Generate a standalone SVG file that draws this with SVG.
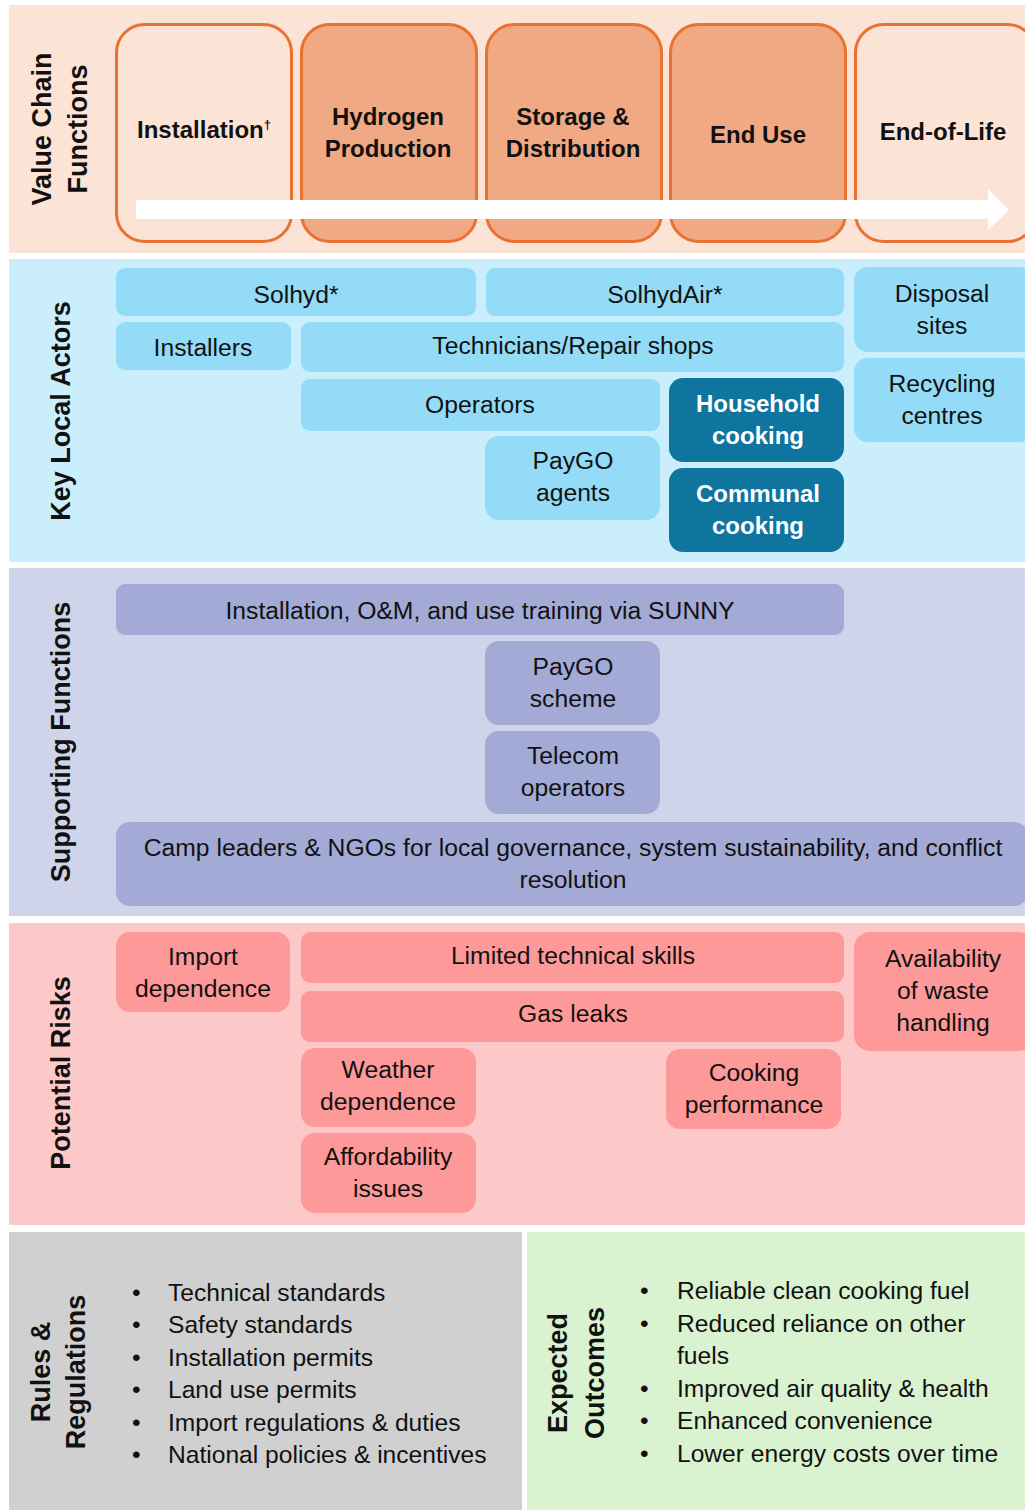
<svg xmlns="http://www.w3.org/2000/svg" width="1025" height="1510" viewBox="0 0 1025 1510">
<style>
text{font-family:"Liberation Sans",Arial,sans-serif;fill:#111;}
.t{font-size:24.7px;text-anchor:middle;}
.hb{font-size:24px;font-weight:bold;text-anchor:middle;}
.vl{font-size:27px;font-weight:bold;text-anchor:middle;}
.wb{font-size:24px;font-weight:bold;text-anchor:middle;fill:#fff;}
.li{font-size:24.6px;}
.vc{stroke:#e97132;stroke-width:3;}
.vcl{fill:#fbe3d6;}
.vcd{fill:#f1a983;}
.ka{fill:#94dbf7;}
.kd{fill:#0f759f;}
.sf{fill:#a3aad6;}
.pr{fill:#fe9999;}
</style>
<rect width="1025" height="1510" fill="#fff"/>
<g id="bands">
<rect x="9" y="5" width="1016" height="248" fill="#fbe3d6"/>
<rect x="9" y="259" width="1016" height="303" fill="#caeefb"/>
<rect x="9" y="568" width="1016" height="348" fill="#d0d4ea"/>
<rect x="9" y="923" width="1016" height="302" fill="#fdc8c8"/>
<rect x="9" y="1232" width="513" height="278" fill="#d0d0d0"/>
<rect x="527" y="1232" width="498" height="278" fill="#d9f2d0"/>
</g>
<g id="section-labels">
<text class="vl" transform="translate(51,129) rotate(-90)">Value Chain</text>
<text class="vl" transform="translate(87,129) rotate(-90)">Functions</text>
<text class="vl" transform="translate(70,411) rotate(-90)">Key Local Actors</text>
<text class="vl" transform="translate(70,742) rotate(-90)">Supporting Functions</text>
<text class="vl" transform="translate(70,1073) rotate(-90)">Potential Risks</text>
<text class="vl" transform="translate(50,1372) rotate(-90)">Rules &amp;</text>
<text class="vl" transform="translate(85,1372) rotate(-90)">Regulations</text>
<text class="vl" transform="translate(567,1373) rotate(-90)">Expected</text>
<text class="vl" transform="translate(604,1373) rotate(-90)">Outcomes</text>
</g>
<g id="vc-installation"><rect class="vc vcl" x="116.5" y="24.5" width="175" height="217" rx="28"/><text class="hb" x="204" y="138">Installation<tspan font-size="13" dy="-9">†</tspan></text></g>
<g id="vc-hydrogen"><rect class="vc vcd" x="301.5" y="24.5" width="175" height="217" rx="28"/><text class="hb" x="388" y="125">Hydrogen</text><text class="hb" x="388" y="157">Production</text></g>
<g id="vc-storage"><rect class="vc vcd" x="486.5" y="24.5" width="175" height="217" rx="28"/><text class="hb" x="573" y="125">Storage &amp;</text><text class="hb" x="573" y="157">Distribution</text></g>
<g id="vc-enduse"><rect class="vc vcd" x="670.5" y="24.5" width="175" height="217" rx="28"/><text class="hb" x="758" y="143">End Use</text></g>
<g id="vc-eol"><rect class="vc vcl" x="855.5" y="24.5" width="180" height="217" rx="28"/><text class="hb" x="943" y="140">End-of-Life</text></g>
<g id="connectors">
<polygon points="136,200 988,200 988,189 1009,210 988,230 988,219 136,219" fill="#fff"/>
</g>
<g id="a-solhyd"><rect class="ka" x="116" y="268" width="360" height="48" rx="9"/><text class="t" x="296" y="303">Solhyd*</text></g>
<g id="a-solhydair"><rect class="ka" x="486" y="268" width="358" height="48" rx="9"/><text class="t" x="665" y="303">SolhydAir*</text></g>
<g id="a-disposal"><rect class="ka" x="854" y="267" width="180" height="85" rx="14"/><text class="t" x="942" y="302">Disposal</text><text class="t" x="942" y="334">sites</text></g>
<g id="a-installers"><rect class="ka" x="116" y="322" width="175" height="48" rx="9"/><text class="t" x="203" y="356">Installers</text></g>
<g id="a-technicians"><rect class="ka" x="301" y="322" width="543" height="50" rx="9"/><text class="t" x="573" y="354">Technicians/Repair shops</text></g>
<g id="a-recycling"><rect class="ka" x="854" y="358" width="180" height="84" rx="14"/><text class="t" x="942" y="392">Recycling</text><text class="t" x="942" y="424">centres</text></g>
<g id="a-operators"><rect class="ka" x="301" y="379" width="359" height="52" rx="9"/><text class="t" x="480" y="413">Operators</text></g>
<g id="a-household"><rect class="kd" x="669" y="378" width="175" height="84" rx="14"/><text class="wb" x="758" y="412">Household</text><text class="wb" x="758" y="444">cooking</text></g>
<g id="a-paygo"><rect class="ka" x="485" y="436" width="175" height="84" rx="14"/><text class="t" x="573" y="469">PayGO</text><text class="t" x="573" y="501">agents</text></g>
<g id="a-communal"><rect class="kd" x="669" y="468" width="175" height="84" rx="14"/><text class="wb" x="758" y="502">Communal</text><text class="wb" x="758" y="534">cooking</text></g>
<g id="s-training"><rect class="sf" x="116" y="584" width="728" height="51" rx="9"/><text class="t" x="480" y="619">Installation, O&amp;M, and use training via SUNNY</text></g>
<g id="s-paygo"><rect class="sf" x="485" y="641" width="175" height="84" rx="14"/><text class="t" x="573" y="675">PayGO</text><text class="t" x="573" y="707">scheme</text></g>
<g id="s-telecom"><rect class="sf" x="485" y="731" width="175" height="83" rx="14"/><text class="t" x="573" y="764">Telecom</text><text class="t" x="573" y="796">operators</text></g>
<g id="s-camp"><rect class="sf" x="116" y="822" width="912" height="84" rx="14"/><text class="t" x="573" y="856">Camp leaders &amp; NGOs for local governance, system sustainability, and conflict</text><text class="t" x="573" y="888">resolution</text></g>
<g id="r-import"><rect class="pr" x="116" y="932" width="174" height="80" rx="14"/><text class="t" x="203" y="965">Import</text><text class="t" x="203" y="997">dependence</text></g>
<g id="r-skills"><rect class="pr" x="301" y="932" width="543" height="51" rx="9"/><text class="t" x="573" y="964">Limited technical skills</text></g>
<g id="r-waste"><rect class="pr" x="854" y="932" width="180" height="119" rx="16"/><text class="t" x="943" y="967">Availability</text><text class="t" x="943" y="999">of waste</text><text class="t" x="943" y="1031">handling</text></g>
<g id="r-gas"><rect class="pr" x="301" y="991" width="543" height="51" rx="9"/><text class="t" x="573" y="1022">Gas leaks</text></g>
<g id="r-weather"><rect class="pr" x="301" y="1048" width="175" height="79" rx="14"/><text class="t" x="388" y="1078">Weather</text><text class="t" x="388" y="1110">dependence</text></g>
<g id="r-cooking"><rect class="pr" x="666" y="1049" width="175" height="80" rx="14"/><text class="t" x="754" y="1081">Cooking</text><text class="t" x="754" y="1113">performance</text></g>
<g id="r-afford"><rect class="pr" x="301" y="1133" width="175" height="80" rx="14"/><text class="t" x="388" y="1165">Affordability</text><text class="t" x="388" y="1197">issues</text></g>
<g id="rules-list">
<text class="li" x="132" y="1301">•</text><text class="li" x="168" y="1301">Technical standards</text>
<text class="li" x="132" y="1333">•</text><text class="li" x="168" y="1333">Safety standards</text>
<text class="li" x="132" y="1366">•</text><text class="li" x="168" y="1366">Installation permits</text>
<text class="li" x="132" y="1398">•</text><text class="li" x="168" y="1398">Land use permits</text>
<text class="li" x="132" y="1431">•</text><text class="li" x="168" y="1431">Import regulations &amp; duties</text>
<text class="li" x="132" y="1463">•</text><text class="li" x="168" y="1463">National policies &amp; incentives</text>
</g>
<g id="outcomes-list">
<text class="li" x="640" y="1299">•</text><text class="li" x="677" y="1299">Reliable clean cooking fuel</text>
<text class="li" x="640" y="1332">•</text><text class="li" x="677" y="1332">Reduced reliance on other</text>
<text class="li" x="677" y="1364">fuels</text>
<text class="li" x="640" y="1397">•</text><text class="li" x="677" y="1397">Improved air quality &amp; health</text>
<text class="li" x="640" y="1429">•</text><text class="li" x="677" y="1429">Enhanced convenience</text>
<text class="li" x="640" y="1462">•</text><text class="li" x="677" y="1462">Lower energy costs over time</text>
</g>
</svg>
